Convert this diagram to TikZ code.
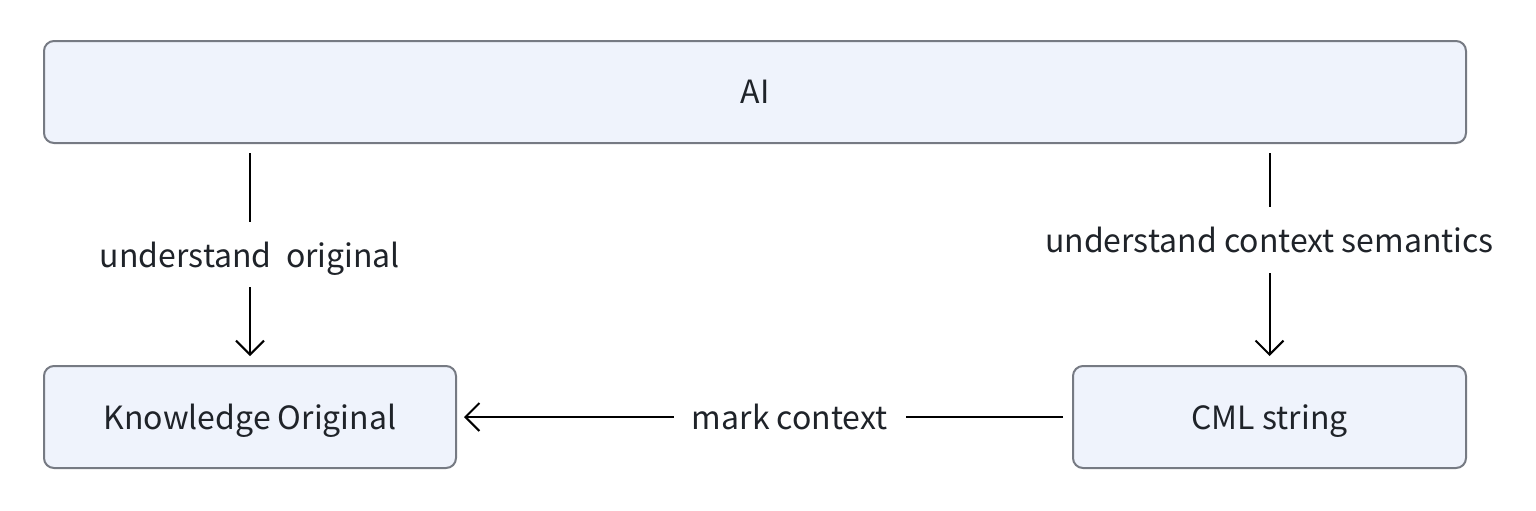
\documentclass[tikz,border=0pt]{standalone}
\usepackage{fontspec}
\setmainfont{Noto Sans CJK SC}
\usepackage{tikz}
\usetikzlibrary{arrows.meta}
\definecolor{boxfill}{HTML}{EFF3FC}
\definecolor{boxline}{HTML}{767A83}
\definecolor{inktext}{HTML}{1F2329}
\tikzset{
  stagebox/.style = {draw=boxline, fill=boxfill, line width=1pt, rounded corners=5pt,
                     text=inktext, text depth=0pt, font=\fontsize{16}{19}\selectfont},
  flowarr/.style  = {-{Straight Barb[length=7pt,width=14pt]}, line width=1pt, black},
  edgelbl/.style  = {fill=white, text=inktext, text depth=0pt, inner xsep=9pt, inner ysep=10pt,
                     font=\fontsize{16}{19}\selectfont}
}
\begin{document}
\begin{tikzpicture}[x=0.5pt,y=-0.5pt]
  \useasboundingbox (0,0) rectangle (1536,510);
  % the three stages
  \node[stagebox, minimum width=711pt, minimum height=51pt] (ai) at (755,92) {AI};
  \node[stagebox, minimum width=206pt, minimum height=51pt] (know) at (250,417) {Knowledge Original};
  \node[stagebox, minimum width=196.5pt, minimum height=51pt] (cml) at (1269.5,417) {CML string};
  % AI reads both sides
  \draw[flowarr, shorten <=4.5pt, shorten >=4.5pt] (know.north |- ai.south) -- (know.north)
        node[edgelbl, pos=0.5]{understand\ \ original};
  \draw[flowarr, shorten <=4.5pt, shorten >=4.5pt] (cml.north |- ai.south) -- (cml.north)
        node[edgelbl, pos=0.434]{understand context semantics};
  % marking goes back to the original
  \draw[flowarr, shorten <=4.5pt, shorten >=3.5pt] (cml.west) -- (know.east)
        node[edgelbl, pos=0.459]{mark context};
\end{tikzpicture}
\end{document}
